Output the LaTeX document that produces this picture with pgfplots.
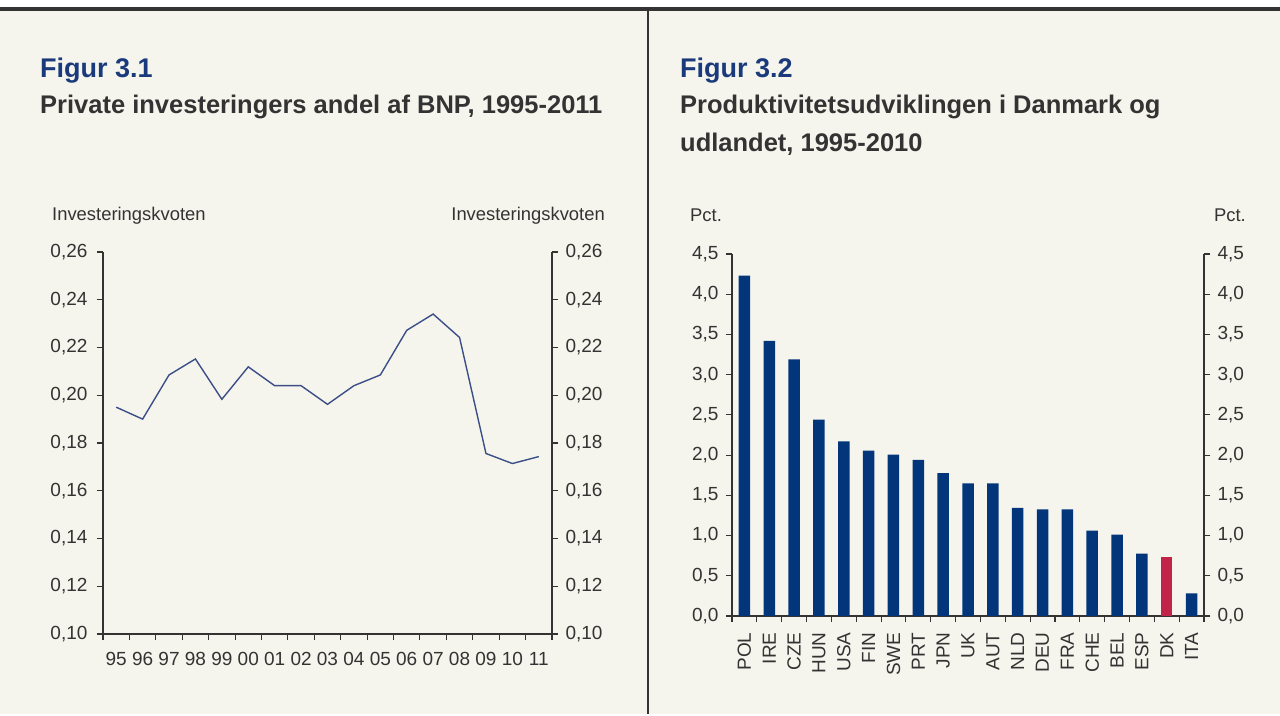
\documentclass[border=0pt]{standalone}
\usepackage{fontspec}
\setmainfont{Liberation Sans}
\usepackage{pgfplots}
\pgfplotsset{compat=1.18}
\definecolor{bg}{HTML}{F6F5ED}
\definecolor{navy}{HTML}{03357A}
\definecolor{dkred}{HTML}{C22348}
\definecolor{linecol}{HTML}{3B4E88}
\definecolor{titleblue}{HTML}{1A3A7C}
\definecolor{txt}{HTML}{333333}
\definecolor{axcol}{HTML}{333333}

\pgfplotsset{
  base/.style={
    scale only axis, anchor=south west,
    tick align=outside,
    major tick length=6pt,
    axis line style={axcol, line width=1.3pt},
    every tick/.style={axcol, line width=1.1pt},
    tick label style={font=\fontsize{19}{22}\selectfont, text=txt},
    /pgf/number format/assume math mode=true,
  },
  lefty/.style={
    ymin=0.10, ymax=0.26,
    ytick={0.10,0.12,0.14,0.16,0.18,0.20,0.22,0.24,0.26},
    yticklabel style={/pgf/number format/fixed, /pgf/number format/fixed zerofill, /pgf/number format/precision=2, /pgf/number format/use comma},
  },
  righty/.style={
    ymin=0, ymax=4.5,
    ytick={0,0.5,1,1.5,2,2.5,3,3.5,4,4.5},
    yticklabel style={/pgf/number format/fixed, /pgf/number format/fixed zerofill, /pgf/number format/precision=1, /pgf/number format/use comma},
  },
}

\begin{document}
\begin{tikzpicture}[x=1pt,y=1pt]
\fill[white] (0,0) rectangle (1280,714);
\fill[bg] (0,0) rectangle (1280,704);
\fill[axcol] (0,703) rectangle (1280,707);
\draw[axcol, line width=2pt] (648,0) -- (648,704);

% titles
\node[anchor=base west, inner sep=0, font=\fontsize{27}{31}\selectfont\bfseries, text=titleblue] at (40,636) {Figur 3.1};
\node[anchor=base west, inner sep=0, font=\fontsize{25.5}{30}\selectfont\bfseries, text=txt] at (40,600) {Private investeringers andel af BNP, 1995-2011};
\node[anchor=base west, inner sep=0, font=\fontsize{27}{31}\selectfont\bfseries, text=titleblue] at (680,636) {Figur 3.2};
\node[anchor=base west, inner sep=0, font=\fontsize{25.5}{30}\selectfont\bfseries, text=txt] at (680,600) {Produktivitetsudviklingen i Danmark og};
\node[anchor=base west, inner sep=0, font=\fontsize{25.5}{30}\selectfont\bfseries, text=txt] at (680,562) {udlandet, 1995-2010};

% unit labels
\node[anchor=base west, inner sep=0, font=\fontsize{18.4}{21}\selectfont, text=txt] at (52,493) {Investeringskvoten};
\node[anchor=base east, inner sep=0, font=\fontsize{18.4}{21}\selectfont, text=txt] at (605,493) {Investeringskvoten};
\node[anchor=base west, inner sep=0, font=\fontsize{18.4}{21}\selectfont, text=txt] at (690,492) {Pct.};
\node[anchor=base east, inner sep=0, font=\fontsize{18.4}{21}\selectfont, text=txt] at (1246,492) {Pct.};

% ---- Figure 3.1 ----
\begin{axis}[base, lefty,
  at={(103pt,80pt)}, width=449pt, height=382pt,
  xmin=0.5, xmax=17.5,
  axis x line*=bottom, axis y line*=left,
  xtick={0.5,1.5,2.5,3.5,4.5,5.5,6.5,7.5,8.5,9.5,10.5,11.5,12.5,13.5,14.5,15.5,16.5,17.5},
  xticklabels={95,96,97,98,99,00,01,02,03,04,05,06,07,08,09,10,11},
  x tick label as interval,
  xticklabel style={yshift=-9pt},
  yticklabel style={xshift=-6pt},
]
\addplot[linecol, line width=1.4pt, mark=none] coordinates {
 (1,0.195) (2,0.190) (3,0.2085) (4,0.2152) (5,0.1983) (6,0.2119) (7,0.204)
 (8,0.204) (9,0.1962) (10,0.204) (11,0.2085) (12,0.2272) (13,0.234)
 (14,0.2242) (15,0.1756) (16,0.1714) (17,0.1743)
};
\end{axis}
\begin{axis}[base, lefty,
  at={(103pt,80pt)}, width=449pt, height=382pt,
  xmin=0.5, xmax=17.5,
  axis x line=none, axis y line*=right,
  yticklabel style={xshift=4pt},
]
\end{axis}

% ---- Figure 3.2 ----
\begin{axis}[base, righty,
  at={(732pt,98pt)}, width=472pt, height=362pt,
  xmin=0.5, xmax=19.5,
  axis x line*=bottom, axis y line*=left,
  ybar, bar width=11.5pt,
  xtick={0.5,1.5,2.5,3.5,4.5,5.5,6.5,7.5,8.5,9.5,10.5,11.5,12.5,13.5,14.5,15.5,16.5,17.5,18.5,19.5},
  xticklabels={POL,IRE,CZE,HUN,USA,FIN,SWE,PRT,JPN,UK,AUT,NLD,DEU,FRA,CHE,BEL,ESP,DK,ITA},
  x tick label as interval,
  xticklabel style={rotate=90, anchor=east, xshift=-7pt},
  yticklabel style={xshift=-4pt},
]
\addplot[fill=navy, draw=none, bar shift=0pt] coordinates {
 (1,4.23) (2,3.42) (3,3.19) (4,2.44) (5,2.17) (6,2.055) (7,2.005) (8,1.94)
 (9,1.775) (10,1.65) (11,1.65) (12,1.345) (13,1.325) (14,1.325) (15,1.06)
 (16,1.01) (17,0.775) (19,0.28)
};
\addplot[fill=dkred, draw=none, bar shift=0pt] coordinates {(18,0.73)};
\end{axis}
\begin{axis}[base, righty,
  at={(732pt,98pt)}, width=472pt, height=362pt,
  xmin=0.5, xmax=19.5,
  axis x line=none, axis y line*=right,
  yticklabel style={xshift=4pt},
]
\end{axis}
\end{tikzpicture}
\end{document}
